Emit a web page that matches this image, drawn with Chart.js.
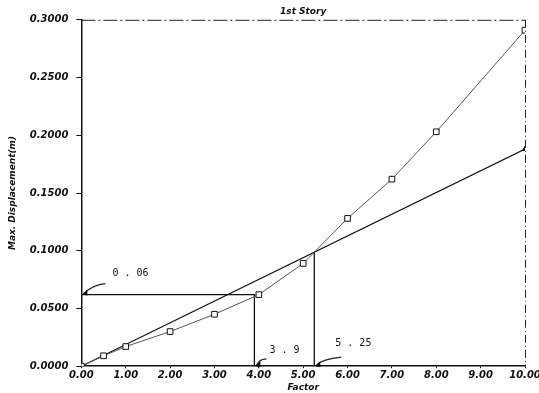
<!DOCTYPE html>
<html>
<head>
<meta charset="utf-8">
<script src="https://cdn.jsdelivr.net/npm/chart.js@4/dist/chart.umd.min.js"></script>
<style>
  html, body { margin: 0; padding: 0; background: #fff; }
  #wrap { width: 539px; height: 393px; }
</style>
</head>
<body>
<div id="wrap"><canvas id="c" width="539" height="393"></canvas></div>
<script>
// ---- data ----
const factorsCurve = [0, 0.5, 1, 2, 3, 4, 5, 6, 7, 8, 10];
const dispCurve    = [0, 0.009, 0.017, 0.030, 0.045, 0.062, 0.089, 0.128, 0.162, 0.203, 0.291];
const factorsLine  = [0, 10];
const dispLine     = [0, 0.188];
// reference (construction) lines
const refHorizY    = 0.062;   // labelled 0.06
const refX1        = 3.9;
const refX2        = 5.25;
const refX2Top     = 0.099;
const annotLabels  = ['0.06', '3.9', '5.25'];
const xTicks       = [0,1,2,3,4,5,6,7,8,9,10];
const yTicks       = [0, 0.05, 0.10, 0.15, 0.20, 0.25, 0.30];

const toPts = (xs, ys) => xs.map((x, i) => ({x, y: ys[i]}));

const tickFont = {family: 'DejaVu Sans', size: 10, style: 'italic', weight: 'bold'};
const titleFont = {family: 'DejaVu Sans', size: 9, style: 'italic', weight: 'bold'};

const framePlugin = {
  id: 'frame',
  afterDatasetsDraw(chart) {
    const {ctx, scales: {x, y}} = chart;
    const x0 = x.getPixelForValue(0), x10 = x.getPixelForValue(10);
    const y0 = y.getPixelForValue(0), y30 = y.getPixelForValue(0.3);
    ctx.save();
    ctx.strokeStyle = '#222';
    ctx.lineWidth = 1;
    // top border (dashed)
    ctx.setLineDash([14, 3, 2, 3]);
    ctx.beginPath(); ctx.moveTo(x0, y30 + 0.5); ctx.lineTo(x10, y30 + 0.5); ctx.stroke();
    // right border (dash-dot)
    ctx.setLineDash([8, 3, 1, 3]);
    ctx.beginPath(); ctx.moveTo(x10 + 0.5, y30); ctx.lineTo(x10 + 0.5, y0); ctx.stroke();
    ctx.setLineDash([]);
    // annotations with curved leader arrows
    const anchors = [
      {ax: x0, ay: y.getPixelForValue(refHorizY), sx: 24, sy: -11, tx: 31, ty: -21, c1x: 12, c1y: -10},
      {ax: x.getPixelForValue(refX1), ay: y0, sx: 12, sy: -7, tx: 15, ty: -16, c1x: 6, c1y: -8},
      {ax: x.getPixelForValue(refX2), ay: y0, sx: 27, sy: -9, tx: 21, ty: -23, c1x: 8, c1y: -7}
    ];
    ctx.fillStyle = '#111';
    ctx.font = '10px "DejaVu Sans Mono"';
    ctx.textBaseline = 'middle';
    anchors.forEach((a, i) => {
      ctx.lineWidth = 1.2;
      ctx.beginPath();
      ctx.moveTo(a.ax + a.sx, a.ay + a.sy);
      ctx.quadraticCurveTo(a.ax + a.c1x, a.ay + a.c1y, a.ax + 2, a.ay - 1);
      ctx.stroke();
      ctx.beginPath();
      ctx.moveTo(a.ax + 1, a.ay);
      ctx.lineTo(a.ax + 6, a.ay - 5);
      ctx.lineTo(a.ax + 6, a.ay + 1);
      ctx.closePath(); ctx.fill();
      const t = annotLabels[i].replace('.', ' . ');
      ctx.fillText(t, a.ax + a.tx, a.ay + a.ty);
    });
    ctx.restore();
  }
};

new Chart(document.getElementById('c'), {
  type: 'line',
  data: {
    datasets: [
      {
        label: 'curve',
        data: toPts(factorsCurve, dispCurve),
        borderColor: '#555', borderWidth: 1,
        pointStyle: 'rect', pointRadius: 4, pointBackgroundColor: '#fff',
        pointBorderColor: '#111', pointBorderWidth: 1, tension: 0
      },
      {
        label: 'linear',
        data: toPts(factorsLine, dispLine),
        borderColor: '#111', borderWidth: 1.2,
        pointStyle: 'triangle', pointRadius: 2.5, pointBackgroundColor: '#111',
        pointBorderColor: '#111', tension: 0
      },
      {
        label: 'ref1',
        data: [{x: 0, y: refHorizY}, {x: refX1, y: refHorizY}, {x: refX1, y: 0}],
        borderColor: '#111', borderWidth: 1.3, pointRadius: 0, tension: 0
      },
      {
        label: 'ref2',
        data: [{x: refX2, y: refX2Top}, {x: refX2, y: 0}],
        borderColor: '#111', borderWidth: 1.3, pointRadius: 0, tension: 0
      }
    ]
  },
  options: {
    responsive: false,
    animation: false,
    layout: {padding: {left: 7, right: 0, top: 3, bottom: 0}},
    plugins: {
      legend: {display: false},
      tooltip: {enabled: false},
      title: {display: false}
    },
    scales: {
      x: {
        type: 'linear', min: 0, max: 10,
        afterBuildTicks: s => { s.ticks = xTicks.map(v => ({value: v})); },
        afterFit: s => { s.paddingRight = 14; },
        ticks: {color: '#111', font: tickFont, padding: 1, maxRotation: 0,
                callback: v => v.toFixed(2)},
        grid: {display: true, drawOnChartArea: false, drawTicks: true, tickLength: 2, color: '#111'},
        border: {display: true, color: '#111', width: 1.5},
        title: {display: true, text: 'Factor', color: '#111', font: titleFont,
                padding: {top: 0, bottom: 0}}
      },
      xTop: {
        type: 'linear', position: 'top', min: 0, max: 10,
        ticks: {display: false},
        grid: {display: false, drawTicks: false},
        border: {display: false},
        title: {display: true, text: '1st Story', color: '#111', font: titleFont,
                padding: {top: 3, bottom: 3}}
      },
      y: {
        type: 'linear', min: 0, max: 0.3,
        afterBuildTicks: s => { s.ticks = yTicks.map(v => ({value: v})); },
        ticks: {color: '#111', font: tickFont, padding: 8,
                callback: v => v.toFixed(4)},
        grid: {display: true, drawOnChartArea: false, drawTicks: true, tickLength: 5, color: '#111'},
        border: {display: true, color: '#111', width: 1.5},
        title: {display: true, text: 'Max. Displacement(m)', color: '#111', font: titleFont,
                padding: {top: 0, bottom: 4}}
      }
    }
  },
  plugins: [framePlugin]
});
</script>
</body>
</html>
